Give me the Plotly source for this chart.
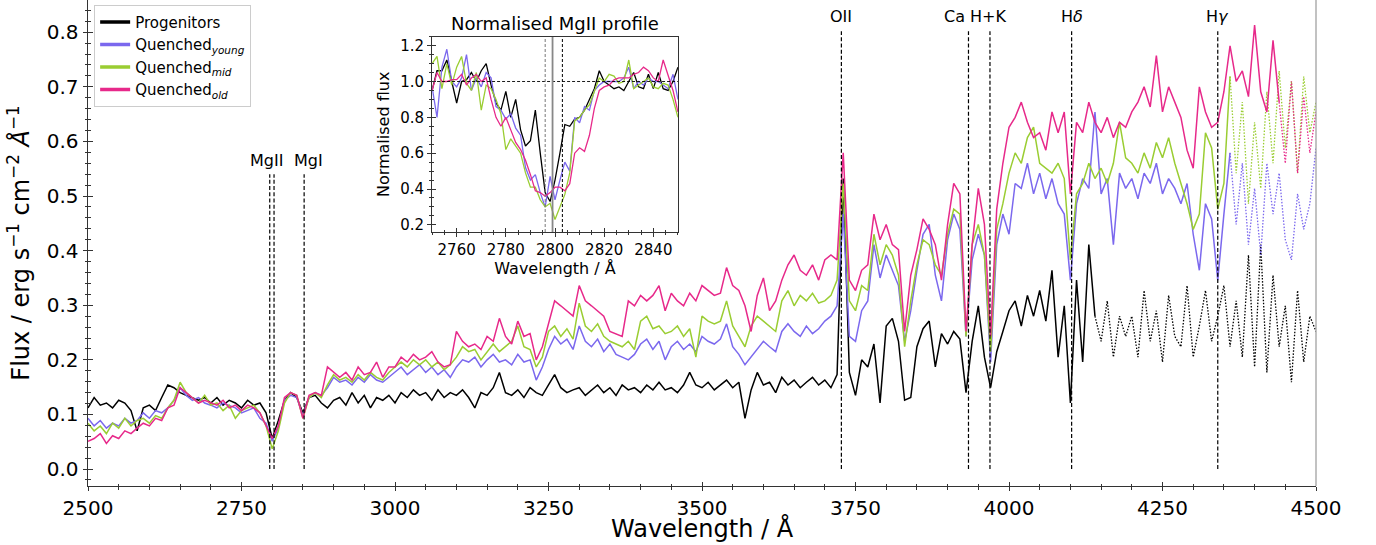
import plotly.graph_objects as go

# ---------------- data ----------------
wave = list(range(2500, 4501, 10))  # Angstrom grid of the main panel

progenitors = [
    0.112, 0.131, 0.117, 0.121, 0.112, 0.126, 0.121, 0.107, 0.070, 0.112,
    0.117, 0.107, 0.131, 0.154, 0.149, 0.140, 0.135, 0.131, 0.126, 0.131,
    0.121, 0.131, 0.117, 0.126, 0.121, 0.112, 0.126, 0.117, 0.121, 0.103,
    0.056, 0.089, 0.126, 0.140, 0.131, 0.103, 0.131, 0.135, 0.121, 0.112,
    0.126, 0.131, 0.117, 0.140, 0.121, 0.135, 0.112, 0.131, 0.126, 0.135,
    0.121, 0.140, 0.131, 0.145, 0.135, 0.140, 0.126, 0.145, 0.131, 0.140,
    0.135, 0.145, 0.131, 0.112, 0.140, 0.135, 0.149, 0.177, 0.140, 0.135,
    0.145, 0.131, 0.149, 0.140, 0.135, 0.154, 0.173, 0.149, 0.140, 0.145,
    0.149, 0.135, 0.145, 0.154, 0.140, 0.149, 0.135, 0.154, 0.145, 0.149,
    0.140, 0.154, 0.145, 0.159, 0.145, 0.149, 0.140, 0.154, 0.177, 0.154,
    0.149, 0.159, 0.145, 0.154, 0.163, 0.149, 0.159, 0.093, 0.145, 0.177,
    0.154, 0.159, 0.140, 0.168, 0.154, 0.163, 0.149, 0.159, 0.168, 0.154,
    0.163, 0.149, 0.173, 0.532, 0.177, 0.135, 0.200, 0.187, 0.229, 0.121,
    0.262, 0.276, 0.234, 0.126, 0.131, 0.224, 0.257, 0.271, 0.187, 0.248,
    0.229, 0.252, 0.238, 0.140, 0.234, 0.299, 0.205, 0.149, 0.215, 0.252,
    0.290, 0.308, 0.262, 0.318, 0.280, 0.327, 0.271, 0.364, 0.205, 0.299,
    0.121, 0.346, 0.196, 0.411, 0.280, 0.234, 0.308, 0.205, 0.280, 0.243,
    0.280, 0.205, 0.327, 0.234, 0.290, 0.196, 0.318, 0.243, 0.224, 0.336,
    0.205, 0.262, 0.327, 0.234, 0.280, 0.336, 0.224, 0.308, 0.205, 0.392,
    0.187, 0.411, 0.177, 0.355, 0.224, 0.299, 0.159, 0.327, 0.196, 0.280,
    0.252,
]

quenched_young = [
    0.093, 0.079, 0.089, 0.075, 0.084, 0.079, 0.093, 0.084, 0.089, 0.103,
    0.093, 0.107, 0.103, 0.112, 0.126, 0.149, 0.135, 0.126, 0.131, 0.121,
    0.117, 0.112, 0.121, 0.117, 0.112, 0.103, 0.107, 0.112, 0.093, 0.084,
    0.051, 0.075, 0.126, 0.135, 0.131, 0.098, 0.131, 0.140, 0.135, 0.149,
    0.168, 0.159, 0.163, 0.154, 0.168, 0.159, 0.173, 0.163, 0.159, 0.168,
    0.177, 0.187, 0.173, 0.182, 0.191, 0.177, 0.187, 0.173, 0.182, 0.168,
    0.187, 0.200, 0.196, 0.205, 0.187, 0.200, 0.210, 0.196, 0.200, 0.191,
    0.210, 0.196, 0.200, 0.163, 0.187, 0.219, 0.243, 0.229, 0.238, 0.219,
    0.262, 0.234, 0.224, 0.238, 0.215, 0.229, 0.210, 0.205, 0.200, 0.210,
    0.229, 0.238, 0.219, 0.234, 0.200, 0.224, 0.234, 0.219, 0.229, 0.215,
    0.243, 0.234, 0.229, 0.238, 0.266, 0.224, 0.210, 0.191, 0.205, 0.219,
    0.234, 0.224, 0.215, 0.252, 0.266, 0.252, 0.243, 0.262, 0.248, 0.257,
    0.271, 0.280, 0.299, 0.467, 0.243, 0.234, 0.290, 0.308, 0.411, 0.350,
    0.392, 0.364, 0.336, 0.234, 0.290, 0.364, 0.430, 0.448, 0.355, 0.308,
    0.420, 0.467, 0.439, 0.243, 0.383, 0.430, 0.392, 0.196, 0.411, 0.467,
    0.430, 0.523, 0.514, 0.560, 0.504, 0.542, 0.495, 0.532, 0.486, 0.467,
    0.346, 0.486, 0.532, 0.514, 0.654, 0.504, 0.532, 0.411, 0.542, 0.514,
    0.532, 0.495, 0.542, 0.523, 0.560, 0.504, 0.532, 0.514, 0.486, 0.523,
    0.430, 0.364, 0.486, 0.458, 0.346, 0.467, 0.579, 0.448, 0.560, 0.411,
    0.514, 0.392, 0.560, 0.467, 0.542, 0.420, 0.383, 0.504, 0.439, 0.486,
    0.588,
]

quenched_mid = [
    0.084, 0.070, 0.079, 0.065, 0.084, 0.075, 0.093, 0.079, 0.089, 0.093,
    0.084, 0.098, 0.093, 0.112, 0.126, 0.159, 0.140, 0.131, 0.121, 0.135,
    0.117, 0.121, 0.107, 0.117, 0.093, 0.107, 0.112, 0.117, 0.103, 0.079,
    0.037, 0.070, 0.121, 0.140, 0.135, 0.093, 0.131, 0.140, 0.131, 0.154,
    0.173, 0.163, 0.168, 0.159, 0.173, 0.163, 0.177, 0.168, 0.163, 0.177,
    0.187, 0.196, 0.187, 0.200, 0.191, 0.200, 0.187, 0.196, 0.182, 0.191,
    0.205, 0.224, 0.215, 0.219, 0.200, 0.215, 0.229, 0.215, 0.224, 0.234,
    0.262, 0.224, 0.219, 0.187, 0.205, 0.252, 0.262, 0.243, 0.257, 0.238,
    0.304, 0.262, 0.252, 0.266, 0.243, 0.234, 0.229, 0.224, 0.234, 0.219,
    0.271, 0.280, 0.257, 0.262, 0.248, 0.252, 0.262, 0.243, 0.257, 0.205,
    0.280, 0.271, 0.266, 0.271, 0.308, 0.262, 0.243, 0.224, 0.262, 0.280,
    0.271, 0.262, 0.252, 0.308, 0.327, 0.299, 0.318, 0.308, 0.322, 0.304,
    0.308, 0.318, 0.346, 0.523, 0.308, 0.290, 0.336, 0.327, 0.430, 0.374,
    0.411, 0.392, 0.355, 0.224, 0.308, 0.374, 0.420, 0.411, 0.374, 0.355,
    0.430, 0.476, 0.467, 0.243, 0.411, 0.448, 0.392, 0.215, 0.439, 0.486,
    0.542, 0.579, 0.560, 0.607, 0.626, 0.560, 0.551, 0.542, 0.560, 0.532,
    0.383, 0.504, 0.523, 0.560, 0.532, 0.551, 0.523, 0.560, 0.635, 0.570,
    0.560, 0.542, 0.579, 0.551, 0.598, 0.570, 0.607, 0.560, 0.523, 0.486,
    0.439, 0.467, 0.616, 0.588, 0.476, 0.523, 0.719, 0.542, 0.672, 0.486,
    0.635, 0.514, 0.691, 0.560, 0.729, 0.588, 0.710, 0.542, 0.719, 0.616,
    0.672,
]

quenched_old = [
    0.051, 0.056, 0.065, 0.047, 0.061, 0.056, 0.070, 0.065, 0.075, 0.084,
    0.079, 0.093, 0.089, 0.112, 0.117, 0.149, 0.140, 0.131, 0.121, 0.126,
    0.121, 0.117, 0.126, 0.112, 0.117, 0.107, 0.117, 0.112, 0.103, 0.079,
    0.056, 0.079, 0.131, 0.140, 0.135, 0.093, 0.135, 0.140, 0.135, 0.187,
    0.177, 0.168, 0.177, 0.163, 0.187, 0.173, 0.177, 0.196, 0.168, 0.187,
    0.187, 0.205, 0.196, 0.210, 0.200, 0.205, 0.215, 0.196, 0.187, 0.191,
    0.252, 0.234, 0.224, 0.229, 0.219, 0.243, 0.234, 0.276, 0.243, 0.229,
    0.271, 0.243, 0.248, 0.200, 0.224, 0.266, 0.308, 0.299, 0.290, 0.280,
    0.336, 0.308, 0.299, 0.290, 0.280, 0.252, 0.248, 0.243, 0.308, 0.299,
    0.318, 0.308, 0.318, 0.336, 0.290, 0.322, 0.308, 0.299, 0.322, 0.308,
    0.336, 0.327, 0.318, 0.322, 0.369, 0.336, 0.327, 0.299, 0.252, 0.318,
    0.350, 0.290, 0.308, 0.346, 0.374, 0.392, 0.364, 0.355, 0.374, 0.346,
    0.383, 0.392, 0.383, 0.579, 0.346, 0.327, 0.364, 0.374, 0.467, 0.420,
    0.448, 0.411, 0.402, 0.252, 0.355, 0.402, 0.458, 0.439, 0.411, 0.346,
    0.448, 0.523, 0.504, 0.252, 0.411, 0.514, 0.448, 0.243, 0.476, 0.560,
    0.626, 0.644, 0.672, 0.635, 0.607, 0.616, 0.584, 0.654, 0.616, 0.654,
    0.504, 0.635, 0.616, 0.672, 0.635, 0.616, 0.644, 0.607, 0.635, 0.626,
    0.654, 0.672, 0.700, 0.663, 0.757, 0.654, 0.700, 0.672, 0.644, 0.584,
    0.551, 0.700, 0.654, 0.626, 0.635, 0.691, 0.775, 0.710, 0.729, 0.682,
    0.813, 0.691, 0.654, 0.785, 0.672, 0.560, 0.710, 0.542, 0.682, 0.579,
    0.654,
]

# Normalised MgII profile (inset)
inset_wave = list(range(2750, 2851, 2))
inset_prog = [
    0.95, 1.06, 1.06, 1.12, 1.00, 0.88, 1.00, 1.01, 1.05, 1.00,
    1.06, 1.10, 0.98, 0.88, 0.84, 0.945, 0.80, 0.90, 0.73, 0.64,
    0.67, 0.84, 0.60, 0.38, 0.33, 0.45, 0.60, 0.76, 0.75, 0.79,
    0.80, 0.84, 0.90, 0.96, 1.06, 1.00, 0.98, 0.96, 0.97, 0.95,
    1.00, 1.05, 0.97, 0.96, 1.04, 0.96, 1.05, 0.96, 0.95, 1.00,
    1.08,
]
inset_young = [
    0.97, 0.80, 1.08, 1.18, 1.00, 0.97, 1.02, 1.15, 0.95, 1.02,
    0.97, 1.05, 1.02, 0.86, 0.84, 0.79, 0.82, 0.74, 0.70, 0.52,
    0.45, 0.48, 0.38, 0.30, 0.47, 0.34, 0.45, 0.55, 0.50, 0.80,
    0.77, 0.86, 0.84, 0.95, 0.98, 1.00, 1.00, 1.00, 1.00, 1.02,
    1.08, 0.96, 1.00, 0.98, 1.02, 1.00, 1.00, 0.98, 0.96, 1.04,
    0.90,
]
inset_mid = [
    1.10, 1.14, 0.96, 1.10, 0.98, 1.08, 1.14, 0.99, 0.95, 1.05,
    0.84, 0.98, 0.96, 0.90, 0.82, 0.62, 0.68, 0.64, 0.60, 0.49,
    0.41, 0.41, 0.34, 0.30, 0.32, 0.23, 0.30, 0.37, 0.49, 0.78,
    0.80, 0.84, 0.87, 0.95, 1.02, 1.00, 1.04, 1.03, 0.99, 1.00,
    1.12, 0.96, 0.98, 1.00, 1.02, 0.97, 0.96, 0.99, 0.98, 0.90,
    0.80,
]
inset_old = [
    0.95, 1.05, 1.00, 1.00, 1.01, 1.01, 1.04, 0.98, 1.02, 1.04,
    1.00, 1.02, 0.90, 0.80, 0.75, 0.80, 0.73, 0.66, 0.62, 0.56,
    0.48, 0.39, 0.38, 0.36, 0.38, 0.41, 0.41, 0.39, 0.43, 0.60,
    0.63, 0.61, 0.70, 0.85, 0.95, 0.97, 0.98, 1.01, 1.02, 1.02,
    1.02, 1.04, 1.05, 1.08, 1.06, 1.02, 1.00, 1.12, 1.04, 0.95,
    0.83,
]

series_names = ["Progenitors", "Quenched<sub><i>young</i></sub>",
                "Quenched<sub><i>mid</i></sub>", "Quenched<sub><i>old</i></sub>"]

# spectral features
line_waves = [2796, 2803, 2852, 3727, 3934, 3969, 4102, 4340]
label_names = ["MgII", "MgI", "OII", "Ca H+K", "H<i>δ</i>", "H<i>γ</i>"]
label_waves = [2796, 2852, 3727, 3951.5, 4102, 4340]
mg_doublet = [2796, 2803]
mg_centre = 2799

# ---------------- styles ----------------
colors = ["#000000", "#7b68ee", "#9acd32", "#e7298a"]
dotted_from = [4140, 4360, 4360, 4440]   # where each spectrum turns dotted
FONT = "DejaVu Sans"
AX = "#333333"

fig = go.Figure()

main_series = [progenitors, quenched_young, quenched_mid, quenched_old]
for vals, col, dfrom in zip(main_series, colors, dotted_from):
    xs = wave[:len(vals)]
    k = xs.index(dfrom) if dfrom in xs else len(xs) - 1
    fig.add_trace(go.Scatter(x=xs[:k + 1], y=vals[:k + 1], mode="lines",
                             line=dict(color=col, width=1.5), showlegend=False,
                             hoverinfo="skip"))
    fig.add_trace(go.Scatter(x=xs[k:], y=vals[k:], mode="lines",
                             line=dict(color=col, width=1.3, dash="1.5px,1.6px"),
                             showlegend=False, hoverinfo="skip"))

# legend entries (thicker sample lines)
for name, col in zip(series_names, colors):
    fig.add_trace(go.Scatter(x=[None], y=[None], mode="lines", name=name,
                             line=dict(color=col, width=3.5)))

# feature lines
for w in line_waves:
    top = 0.54 if w < 2900 else 0.802
    fig.add_trace(go.Scatter(x=[w, w], y=[0.0, top], mode="lines",
                             line=dict(color="black", width=1.2, dash="4px,2.2px"),
                             showlegend=False, hoverinfo="skip"))

label_shift = {"MgII": -3, "MgI": 4, "Ca H+K": -4}
annotations = []
for name, w in zip(label_names, label_waves):
    y = 0.566 if w < 2900 else 0.828
    annotations.append(dict(x=w, y=y, xref="x", yref="y", text=name,
                            showarrow=False, xshift=label_shift.get(name, 0),
                            font=dict(size=16, color="black", family=FONT)))

# ---------------- inset ----------------
for vals, col in zip([inset_prog, inset_young, inset_mid, inset_old], colors):
    fig.add_trace(go.Scatter(x=inset_wave[:len(vals)], y=vals, mode="lines",
                             xaxis="x2", yaxis="y2",
                             line=dict(color=col, width=1.3), showlegend=False,
                             hoverinfo="skip"))

fig.add_trace(go.Scatter(x=[2750, 2850], y=[1.0, 1.0], mode="lines", xaxis="x2", yaxis="y2",
                         line=dict(color="black", width=0.9, dash="3px,2px"),
                         showlegend=False, hoverinfo="skip"))
for w, col in zip(mg_doublet, ["#777777", "black"]):
    fig.add_trace(go.Scatter(x=[w, w], y=[0.16, 1.25], mode="lines", xaxis="x2", yaxis="y2",
                             line=dict(color=col, width=1.0, dash="3px,2px"),
                             showlegend=False, hoverinfo="skip"))
fig.add_trace(go.Scatter(x=[mg_centre, mg_centre], y=[0.16, 1.25], mode="lines",
                         xaxis="x2", yaxis="y2",
                         line=dict(color="#888888", width=1.8),
                         showlegend=False, hoverinfo="skip"))

# dummy traces so that the overlay tick axes are drawn
fig.add_trace(go.Scatter(x=[None], y=[None], xaxis="x3", yaxis="y3",
                         showlegend=False, hoverinfo="skip"))
fig.add_trace(go.Scatter(x=[None], y=[None], xaxis="x4", yaxis="y4",
                         showlegend=False, hoverinfo="skip"))

XR = [2500, 4500]
YR = [-0.031, 0.859]
IXR = [2750, 2850]
IYR = [0.16, 1.25]
ix_dom = [0.2802, 0.4804]
iy_dom = [0.5226, 0.9245]

def out_axis(**kw):
    d = dict(showgrid=False, zeroline=False, showline=True, linecolor=AX, linewidth=1,
             ticks="outside", tickcolor=AX, tickwidth=1)
    d.update(kw)
    return d

def in_axis(**kw):
    d = dict(showgrid=False, zeroline=False, showline=False, showticklabels=False,
             ticks="inside", tickcolor=AX, tickwidth=1)
    d.update(kw)
    return d

fig.update_layout(
    width=1376, height=545,
    margin=dict(l=88, r=60, t=0, b=59, autoexpand=False),
    plot_bgcolor="white", paper_bgcolor="white",
    font=dict(family=FONT, color="black"),
    showlegend=True,
    legend=dict(x=0.005, y=0.99, xanchor="left", yanchor="top",
                bgcolor="white", bordercolor="#cccccc", borderwidth=1,
                font=dict(size=15, family=FONT), tracegroupgap=0, itemwidth=30),
    xaxis=out_axis(range=XR, tick0=2500, dtick=250, ticklen=4,
                   tickfont=dict(size=20),
                   minor=dict(ticks="outside", ticklen=2.5, dtick=50, tick0=2500, tickcolor=AX)),
    yaxis=out_axis(range=YR, tick0=0, dtick=0.1, ticklen=4.5, tickformat=".1f",
                   tickfont=dict(size=20),
                   minor=dict(ticks="outside", ticklen=2.5, dtick=0.02, tick0=0, tickcolor=AX),
                   title=dict(text="Flux / erg s<sup>−1</sup> cm<sup>−2</sup> <i>Å</i><sup>−1</sup>",
                              font=dict(size=24), standoff=10)),
    xaxis3=in_axis(overlaying="x", anchor="y3", range=XR, tick0=2500, dtick=250, ticklen=4,
                   minor=dict(ticks="inside", ticklen=2.5, dtick=50, tick0=2500, tickcolor=AX)),
    yaxis3=in_axis(overlaying="y", anchor="x3", range=YR, tick0=0, dtick=0.1, ticklen=4.5,
                   minor=dict(ticks="inside", ticklen=2.5, dtick=0.02, tick0=0, tickcolor=AX)),
    xaxis2=out_axis(domain=ix_dom, anchor="y2", range=IXR, tick0=2760, dtick=20, ticklen=4,
                    mirror=True, tickfont=dict(size=15),
                    minor=dict(ticks="outside", ticklen=2, dtick=5, tick0=2750, tickcolor=AX),
                    title=dict(text="Wavelength / Å", font=dict(size=16), standoff=3)),
    yaxis2=out_axis(domain=iy_dom, anchor="x2", range=IYR, tick0=0.2, dtick=0.2, ticklen=4,
                    mirror=True, tickformat=".1f", tickfont=dict(size=15),
                    minor=dict(ticks="outside", ticklen=2, dtick=0.05, tick0=0.2, tickcolor=AX),
                    title=dict(text="Normalised flux", font=dict(size=16), standoff=6)),
    xaxis4=in_axis(overlaying="x2", anchor="y4", range=IXR, tick0=2760, dtick=20, ticklen=4,
                   minor=dict(ticks="inside", ticklen=2, dtick=5, tick0=2750, tickcolor=AX)),
    yaxis4=in_axis(overlaying="y2", anchor="x4", range=IYR, tick0=0.2, dtick=0.2, ticklen=4,
                   minor=dict(ticks="inside", ticklen=2, dtick=0.05, tick0=0.2, tickcolor=AX)),
    shapes=[dict(type="line", xref="paper", yref="paper", x0=1, x1=1, y0=0, y1=1,
                 line=dict(color="#999999", width=1.2))],
    annotations=annotations + [
        dict(x=(ix_dom[0] + ix_dom[1]) / 2, y=iy_dom[1], xref="paper", yref="paper",
             text="Normalised MgII profile", showarrow=False, yanchor="bottom", yshift=1,
             font=dict(size=18, family=FONT, color="black")),
        dict(x=0.5, y=0, xref="paper", yref="paper", text="Wavelength / Å",
             showarrow=False, yanchor="top", yshift=-26,
             font=dict(size=24, family=FONT, color="black")),
    ],
)

fig.write_html("out.html", config={"displayModeBar": False},
               post_script="document.body.style.margin='0px';document.body.style.padding='0px';")
